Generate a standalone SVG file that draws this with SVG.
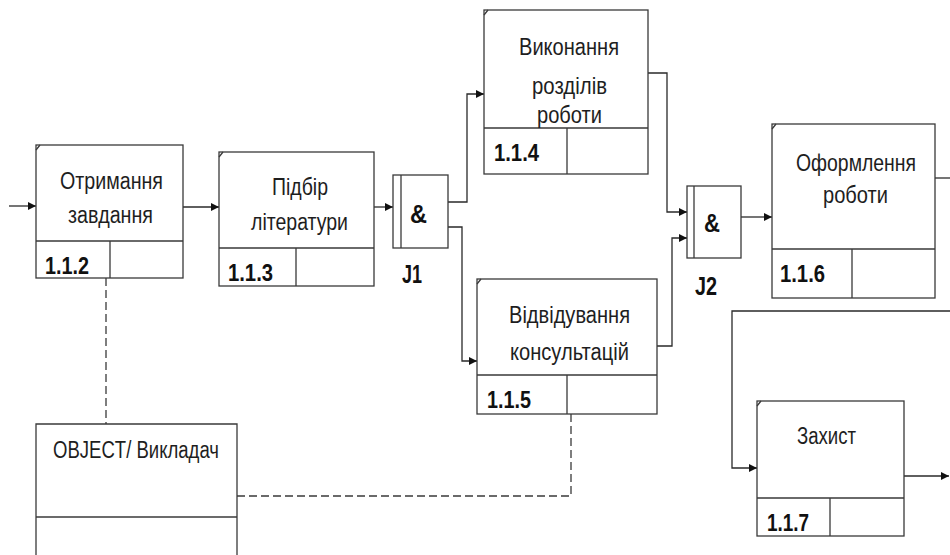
<svg xmlns="http://www.w3.org/2000/svg" width="950" height="555" viewBox="0 0 950 555">
<defs>
<style>
.box{fill:#fff;stroke:#3a3a3a;stroke-width:1.3}
.ln{fill:none;stroke:#3a3a3a;stroke-width:1.3}
.cn{fill:none;stroke:#2a2a2a;stroke-width:1.3}
.dash{fill:none;stroke:#3a3a3a;stroke-width:1.3;stroke-dasharray:8 4}
.t{font-family:"Liberation Sans",Arial,sans-serif;font-size:23px;fill:#1e1e1e}
.n{font-family:"Liberation Sans",Arial,sans-serif;font-size:23px;font-weight:bold;fill:#111}
.j{font-family:"Liberation Sans",Arial,sans-serif;font-size:26px;font-weight:bold;fill:#111}
</style>
<marker id="ah" markerUnits="userSpaceOnUse" markerWidth="9" markerHeight="9" refX="8" refY="4" orient="auto">
<path d="M0,0 L8,4 L0,8 z" fill="#111"/>
</marker>
</defs>
<rect width="950" height="555" fill="#fff"/>

<g id="connectors">
<path class="cn" d="M9,206 H36" marker-end="url(#ah)"/>
<path class="cn" d="M183,207 H219" marker-end="url(#ah)"/>
<path class="cn" d="M374,207 H393" marker-end="url(#ah)"/>
<path class="cn" d="M448,202 H467 V94 H484" marker-end="url(#ah)"/>
<path class="cn" d="M448,227 H462 V361 H477" marker-end="url(#ah)"/>
<path class="cn" d="M648,73 H667 V212 H687" marker-end="url(#ah)"/>
<path class="cn" d="M657,346 H672 V238 H687" marker-end="url(#ah)"/>
<path class="cn" d="M741,217 H772" marker-end="url(#ah)"/>
<path class="cn" d="M935,178 H950"/>
<path class="cn" d="M950,311 H732 V468 H757" marker-end="url(#ah)"/>
<path class="cn" d="M904,476 H949" marker-end="url(#ah)"/>
<path class="dash" d="M106,278 V424"/>
<path class="dash" d="M571,414 V496 H237"/>
</g>

<g id="node-1.1.2">
<rect class="box" x="36" y="145" width="147" height="133"/>
<path class="ln" d="M36,241 H183 M110,241 V278 M36,150 L40,145"/>
<text class="t" x="60" y="189" textLength="103" lengthAdjust="spacingAndGlyphs">Отримання</text>
<text class="t" x="68" y="223" textLength="85" lengthAdjust="spacingAndGlyphs">завдання</text>
<text class="n" x="45" y="274" textLength="44" lengthAdjust="spacingAndGlyphs">1.1.2</text>
</g>

<g id="node-1.1.3">
<rect class="box" x="219" y="152" width="155" height="134"/>
<path class="ln" d="M219,248 H374 M296,248 V286 M219,157 L223,152"/>
<text class="t" x="272" y="195" textLength="56" lengthAdjust="spacingAndGlyphs">Підбір</text>
<text class="t" x="251" y="230" textLength="97" lengthAdjust="spacingAndGlyphs">літератури</text>
<text class="n" x="228" y="281" textLength="45" lengthAdjust="spacingAndGlyphs">1.1.3</text>
</g>

<g id="J1">
<rect class="box" x="393" y="175" width="55" height="73"/>
<path class="ln" d="M401,175 V248"/>
<text class="j" x="410" y="223" textLength="17" lengthAdjust="spacingAndGlyphs">&amp;</text>
<text class="j" x="402" y="283" textLength="20" lengthAdjust="spacingAndGlyphs">J1</text>
</g>

<g id="node-1.1.4">
<rect class="box" x="484" y="10" width="164" height="164"/>
<path class="ln" d="M484,128 H648 M567,128 V174 M484,15 L488,10"/>
<text class="t" x="519" y="55" textLength="100" lengthAdjust="spacingAndGlyphs">Виконання</text>
<text class="t" x="532" y="94" textLength="75" lengthAdjust="spacingAndGlyphs">розділів</text>
<text class="t" x="537" y="123" textLength="65" lengthAdjust="spacingAndGlyphs">роботи</text>
<text class="n" x="494" y="161" textLength="45" lengthAdjust="spacingAndGlyphs">1.1.4</text>
</g>

<g id="node-1.1.5">
<rect class="box" x="477" y="279" width="180" height="135"/>
<path class="ln" d="M477,375 H657 M567,375 V414 M477,284 L481,279"/>
<text class="t" x="509" y="323" textLength="121" lengthAdjust="spacingAndGlyphs">Відвідування</text>
<text class="t" x="510" y="360" textLength="119" lengthAdjust="spacingAndGlyphs">консультацій</text>
<text class="n" x="487" y="408" textLength="44" lengthAdjust="spacingAndGlyphs">1.1.5</text>
</g>

<g id="J2">
<rect class="box" x="687" y="186" width="54" height="72"/>
<path class="ln" d="M694,186 V258"/>
<text class="j" x="704" y="232" textLength="16" lengthAdjust="spacingAndGlyphs">&amp;</text>
<text class="j" x="695" y="295" textLength="22" lengthAdjust="spacingAndGlyphs">J2</text>
</g>

<g id="node-1.1.6">
<rect class="box" x="772" y="124" width="163" height="174"/>
<path class="ln" d="M772,249 H935 M852,249 V298 M772,129 L776,124"/>
<text class="t" x="796" y="171" textLength="120" lengthAdjust="spacingAndGlyphs">Оформлення</text>
<text class="t" x="823" y="203" textLength="65" lengthAdjust="spacingAndGlyphs">роботи</text>
<text class="n" x="780" y="282" textLength="45" lengthAdjust="spacingAndGlyphs">1.1.6</text>
</g>

<g id="node-1.1.7">
<rect class="box" x="757" y="401" width="147" height="135"/>
<path class="ln" d="M757,498 H904 M830,498 V536 M757,406 L761,401"/>
<text class="t" x="797" y="444" textLength="59" lengthAdjust="spacingAndGlyphs">Захист</text>
<text class="n" x="767" y="531" textLength="42" lengthAdjust="spacingAndGlyphs">1.1.7</text>
</g>

<g id="object-vykladach">
<path class="box" d="M36,556 V424 H237 V556"/>
<path class="ln" d="M36,517 H237"/>
<text class="t" x="53" y="458" textLength="166" lengthAdjust="spacingAndGlyphs">OBJECT/ Викладач</text>
</g>
</svg>
